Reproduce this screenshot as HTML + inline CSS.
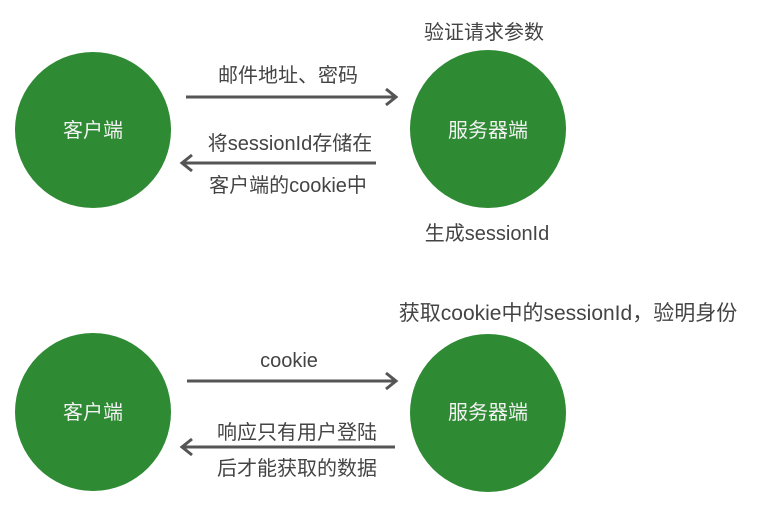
<!DOCTYPE html>
<html><head><meta charset="utf-8"><style>
body{margin:0;width:767px;height:508px;background:#fff;overflow:hidden;font-family:"Liberation Sans","Noto Sans CJK SC",sans-serif}
</style></head><body>
<svg width="767" height="508" xmlns="http://www.w3.org/2000/svg" style="position:absolute;left:0;top:0">
<g fill="#2e8a33">
<ellipse cx="93" cy="130" rx="78" ry="78"/>
<ellipse cx="488" cy="129" rx="78" ry="79"/>
<ellipse cx="93" cy="412" rx="78" ry="79"/>
<ellipse cx="488" cy="413" rx="78" ry="79"/>
</g>
<g fill="#f2f2f2" font-size="20" text-anchor="middle" font-family="'Liberation Sans','Noto Sans CJK SC',sans-serif">
<text x="93" y="137">客户端</text>
<text x="488" y="137">服务器端</text>
<text x="93" y="419">客户端</text>
<text x="488" y="419">服务器端</text>
</g>
<g stroke="#555" stroke-width="3" fill="none">
<line x1="186" y1="97" x2="396" y2="97"/><polyline points="386,89 396,97 386,105"/>
<line x1="182" y1="163" x2="376" y2="163"/><polyline points="192,155 182,163 192,171"/>
<line x1="187" y1="381" x2="396" y2="381"/><polyline points="386,373 396,381 386,389"/>
<line x1="182" y1="447" x2="395" y2="447"/><polyline points="192,439 182,447 192,455"/>
</g>
<g fill="#444" font-size="20" text-anchor="middle" font-family="'Liberation Sans','Noto Sans CJK SC',sans-serif">
<text x="288" y="82">邮件地址、密码</text>
<text x="290" y="150">将sessionId存储在</text>
<text x="288" y="192">客户端的cookie中</text>
<text x="484" y="39">验证请求参数</text>
<text x="487" y="240">生成sessionId</text>
<text x="568" y="320" font-size="21">获取cookie中的sessionId，验明身份</text>
<text x="289" y="367">cookie</text>
<text x="297" y="439">响应只有用户登陆</text>
<text x="297" y="475">后才能获取的数据</text>
</g>
</svg>
</body></html>
